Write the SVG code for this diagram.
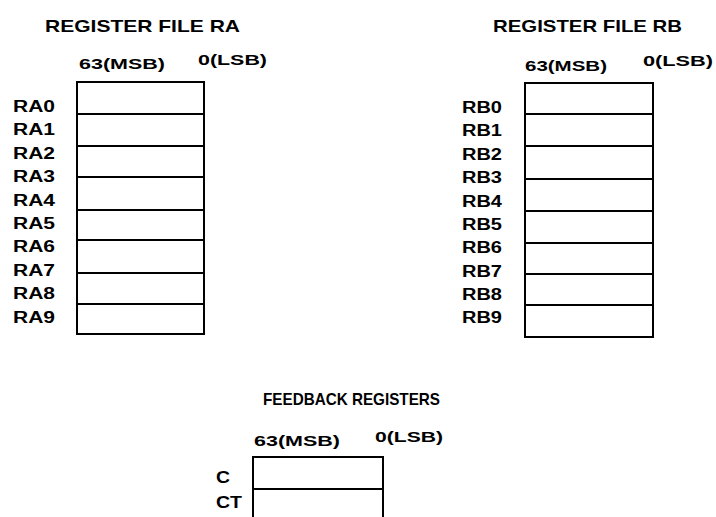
<svg xmlns="http://www.w3.org/2000/svg" width="716" height="517" viewBox="0 0 716 517">
<style>
text{font-family:"Liberation Sans",Arial,sans-serif;font-weight:bold;fill:#000}
.t{font-size:17px}
.b{font-size:15px}
.l{font-size:16px}
.box{fill:none;stroke:#000;stroke-width:2}
.ln{stroke:#000;stroke-width:2}
</style>
<rect width="716" height="517" fill="#fff"/>
<g id="register-file-ra">
<text class="t" x="45" y="32" textLength="195" lengthAdjust="spacingAndGlyphs">REGISTER FILE RA</text>
<text class="b" x="79" y="69" textLength="86" lengthAdjust="spacingAndGlyphs">63(MSB)</text>
<text class="b" x="198" y="65" textLength="69" lengthAdjust="spacingAndGlyphs">0(LSB)</text>
<rect class="box" x="77" y="82" width="127" height="252"/>
<path class="ln" d="M77 114H204M77 146H204M77 177H204M77 210H204M77 240H204M77 273H204M77 304H204"/>
<text class="l" x="13" y="112" textLength="42" lengthAdjust="spacingAndGlyphs">RA0</text>
<text class="l" x="13" y="135" textLength="42" lengthAdjust="spacingAndGlyphs">RA1</text>
<text class="l" x="13" y="159" textLength="42" lengthAdjust="spacingAndGlyphs">RA2</text>
<text class="l" x="13" y="182" textLength="42" lengthAdjust="spacingAndGlyphs">RA3</text>
<text class="l" x="13" y="206" textLength="42" lengthAdjust="spacingAndGlyphs">RA4</text>
<text class="l" x="13" y="229" textLength="42" lengthAdjust="spacingAndGlyphs">RA5</text>
<text class="l" x="13" y="252" textLength="42" lengthAdjust="spacingAndGlyphs">RA6</text>
<text class="l" x="13" y="276" textLength="42" lengthAdjust="spacingAndGlyphs">RA7</text>
<text class="l" x="13" y="299" textLength="42" lengthAdjust="spacingAndGlyphs">RA8</text>
<text class="l" x="13" y="323" textLength="42" lengthAdjust="spacingAndGlyphs">RA9</text>
</g>
<g id="register-file-rb">
<text class="t" x="493" y="32" textLength="189" lengthAdjust="spacingAndGlyphs">REGISTER FILE RB</text>
<text class="b" x="525" y="71" textLength="82" lengthAdjust="spacingAndGlyphs">63(MSB)</text>
<text class="b" x="643" y="66" textLength="70" lengthAdjust="spacingAndGlyphs">0(LSB)</text>
<rect class="box" x="525" y="83" width="128" height="254"/>
<path class="ln" d="M525 114H653M525 146H653M525 179H653M525 211H653M525 243H653M525 274H653M525 305H653"/>
<text class="l" x="462" y="113" textLength="40" lengthAdjust="spacingAndGlyphs">RB0</text>
<text class="l" x="462" y="136" textLength="40" lengthAdjust="spacingAndGlyphs">RB1</text>
<text class="l" x="462" y="160" textLength="40" lengthAdjust="spacingAndGlyphs">RB2</text>
<text class="l" x="462" y="183" textLength="40" lengthAdjust="spacingAndGlyphs">RB3</text>
<text class="l" x="462" y="207" textLength="40" lengthAdjust="spacingAndGlyphs">RB4</text>
<text class="l" x="462" y="230" textLength="40" lengthAdjust="spacingAndGlyphs">RB5</text>
<text class="l" x="462" y="253" textLength="40" lengthAdjust="spacingAndGlyphs">RB6</text>
<text class="l" x="462" y="277" textLength="40" lengthAdjust="spacingAndGlyphs">RB7</text>
<text class="l" x="462" y="300" textLength="40" lengthAdjust="spacingAndGlyphs">RB8</text>
<text class="l" x="462" y="323" textLength="40" lengthAdjust="spacingAndGlyphs">RB9</text>
</g>
<g id="feedback-registers">
<text class="t" x="263" y="405" textLength="177" lengthAdjust="spacingAndGlyphs">FEEDBACK REGISTERS</text>
<text class="b" x="254" y="446" textLength="86" lengthAdjust="spacingAndGlyphs">63(MSB)</text>
<text class="b" x="375" y="442" textLength="68" lengthAdjust="spacingAndGlyphs">0(LSB)</text>
<path class="box" d="M253 517V457H383V517M253 489H383"/>
<text class="l" x="216" y="483" textLength="14" lengthAdjust="spacingAndGlyphs">C</text>
<text class="l" x="216" y="508" textLength="26" lengthAdjust="spacingAndGlyphs">CT</text>
</g>
</svg>
